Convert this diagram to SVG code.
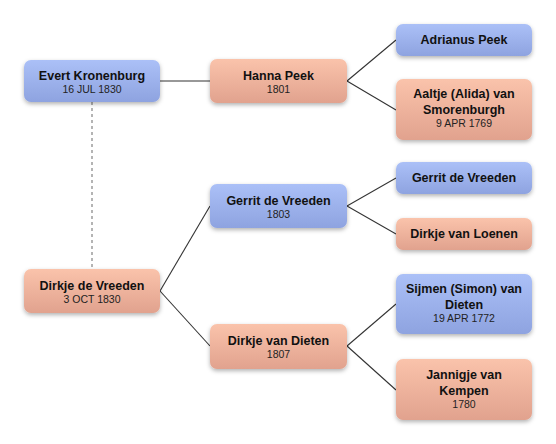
<svg xmlns="http://www.w3.org/2000/svg" width="556" height="444" viewBox="0 0 556 444">
<defs>
<linearGradient id="gb" x1="0" y1="0" x2="0" y2="1"><stop offset="0" stop-color="#abc0f7"/><stop offset="1" stop-color="#8ea3e0"/></linearGradient>
<linearGradient id="gp" x1="0" y1="0" x2="0" y2="1"><stop offset="0" stop-color="#fac3ab"/><stop offset="1" stop-color="#e1a28e"/></linearGradient>
<filter id="sh" x="-20%" y="-20%" width="140%" height="160%"><feDropShadow dx="0" dy="2" stdDeviation="2" flood-color="#000" flood-opacity="0.3"/></filter>
</defs>
<style>
.m rect{fill:url(#gb);filter:url(#sh)}
.f rect{fill:url(#gp);filter:url(#sh)}
text{font-family:"Liberation Sans",Arial,sans-serif;text-anchor:middle;fill:#111}
.n{font-size:12.5px;font-weight:bold}
.d{font-size:10.5px;fill:#222}
.c line{stroke:#333;stroke-width:1.1}
.c .dash{stroke:#777;stroke-dasharray:3,3}
</style>
<rect width="556" height="444" fill="#fff"/>
<g class="c" id="connectors">
<line class="dash" x1="92" y1="102" x2="92" y2="269"/>
<line x1="160" y1="81" x2="210" y2="81"/>
<line x1="347" y1="81" x2="396" y2="40"/>
<line x1="347" y1="81" x2="396" y2="110"/>
<line x1="160" y1="291" x2="210" y2="206"/>
<line x1="160" y1="291" x2="210" y2="346"/>
<line x1="347" y1="206" x2="396" y2="178"/>
<line x1="347" y1="206" x2="396" y2="234"/>
<line x1="347" y1="346" x2="396" y2="304"/>
<line x1="347" y1="346" x2="396" y2="390"/>
</g>
<g id="evert" class="m"><rect x="24" y="60" width="136" height="42" rx="7"/><text class="n" x="92" y="80">Evert Kronenburg</text><text class="d" x="92" y="93">16 JUL 1830</text></g>
<g id="hanna" class="f"><rect x="210" y="59" width="137" height="44" rx="7"/><text class="n" x="278.5" y="80">Hanna Peek</text><text class="d" x="278.5" y="93">1801</text></g>
<g id="adrianus" class="m"><rect x="396" y="24" width="136" height="32" rx="7"/><text class="n" x="464" y="44">Adrianus Peek</text></g>
<g id="aaltje" class="f"><rect x="396" y="79" width="136" height="61" rx="7"/><text class="n" x="464" y="98">Aaltje (Alida) van</text><text class="n" x="464" y="114">Smorenburgh</text><text class="d" x="464" y="127">9 APR 1769</text></g>
<g id="dirkje-vreeden" class="f"><rect x="24" y="269" width="136" height="44" rx="7"/><text class="n" x="92" y="290">Dirkje de Vreeden</text><text class="d" x="92" y="303">3 OCT 1830</text></g>
<g id="gerrit-mid" class="m"><rect x="210" y="184" width="137" height="44" rx="7"/><text class="n" x="278.5" y="205">Gerrit de Vreeden</text><text class="d" x="278.5" y="218">1803</text></g>
<g id="gerrit-right" class="m"><rect x="396" y="162" width="136" height="32" rx="7"/><text class="n" x="464" y="182">Gerrit de Vreeden</text></g>
<g id="loenen" class="f"><rect x="396" y="218" width="136" height="32" rx="7"/><text class="n" x="464" y="238">Dirkje van Loenen</text></g>
<g id="dieten" class="f"><rect x="210" y="324" width="137" height="45" rx="7"/><text class="n" x="278.5" y="345">Dirkje van Dieten</text><text class="d" x="278.5" y="358">1807</text></g>
<g id="sijmen" class="m"><rect x="396" y="274" width="136" height="60" rx="7"/><text class="n" x="464" y="293">Sijmen (Simon) van</text><text class="n" x="464" y="309">Dieten</text><text class="d" x="464" y="322">19 APR 1772</text></g>
<g id="jannigje" class="f"><rect x="396" y="359" width="136" height="61" rx="7"/><text class="n" x="464" y="379">Jannigje van</text><text class="n" x="464" y="395">Kempen</text><text class="d" x="464" y="408">1780</text></g>
</svg>
